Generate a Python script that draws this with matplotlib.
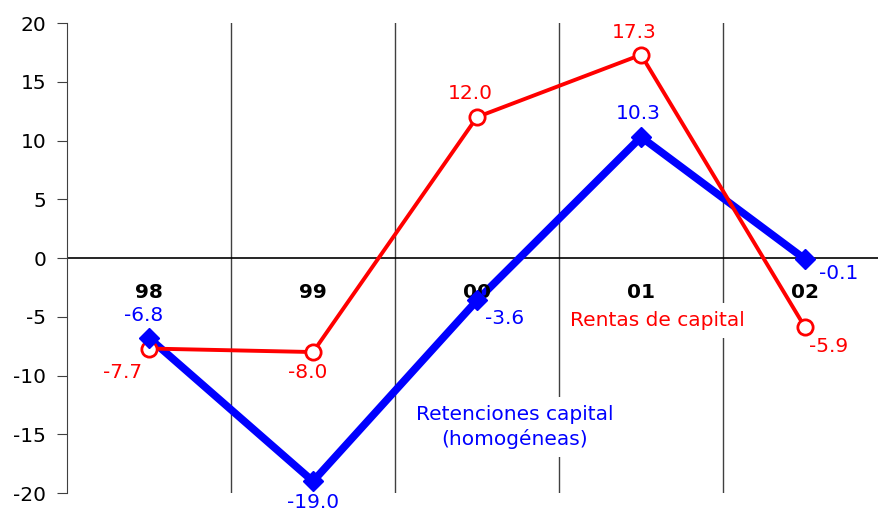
import matplotlib.pyplot as plt

# Data
years = ["98", "99", "00", "01", "02"]
rentas = [-7.7, -8.0, 12.0, 17.3, -5.9]
retenciones = [-6.8, -19.0, -3.6, 10.3, -0.1]

# label offsets in points (dx, dy)
rentas_off = [(-19, -17), (-4, -15), (-5, 17), (-5, 16), (17, -14)]
reten_off = [(-4, 16), (0, -15), (20, -13), (-2, 17), (24, -10)]

plt.rcParams['font.family'] = 'DejaVu Sans'
plt.rcParams['axes.unicode_minus'] = False
FS = 14.5

fig = plt.figure(figsize=(8.79, 5.12), dpi=100)
ax = fig.add_axes([0.0762, 0.037, 0.933, 0.918])

x = list(range(len(years)))

# grid / axes lines
for xv in [0.5, 1.5, 2.5, 3.5]:
    ax.axvline(xv, color='#404040', linewidth=1, zorder=1)
ax.axhline(0, color='black', linewidth=1.2, zorder=1)

# series
ax.plot(x, retenciones, color='#0000ff', linewidth=5.5, zorder=2)
ax.plot(x, rentas, color='#ff0000', linewidth=2.8, marker='o', markersize=11,
        markerfacecolor='white', markeredgecolor='#ff0000', markeredgewidth=2, zorder=3)
ax.plot(x, retenciones, linestyle='none', marker='D', markersize=10.5,
        color='#0000ff', zorder=4)

# data labels
for i, v in enumerate(rentas):
    ax.annotate(f"{v:.1f}", (i, v), xytext=rentas_off[i], textcoords='offset points',
                ha='center', va='center', color='#ff0000', fontsize=FS, zorder=5)
for i, v in enumerate(retenciones):
    ax.annotate(f"{v:.1f}", (i, v), xytext=reten_off[i], textcoords='offset points',
                ha='center', va='center', color='#0000ff', fontsize=FS, zorder=5)

# category labels under the zero line
for i, yr in enumerate(years):
    ax.text(i, -2.9, yr, ha='center', va='center', fontsize=FS,
            fontweight='bold', color='black', zorder=3)

# series names
ax.text(3.1, -5.3, "Rentas de capital", ha='center', va='center', color='#ff0000',
        fontsize=FS, zorder=4,
        bbox=dict(facecolor='white', edgecolor='none', pad=6))
ax.text(2.23, -14.4, "Retenciones capital\n(homogéneas)", ha='center', va='center',
        color='#0000ff', fontsize=FS, zorder=4, linespacing=1.3,
        bbox=dict(facecolor='white', edgecolor='none', pad=6))

ax.set_xlim(-0.5, 4.5)
ax.set_ylim(-20, 20)
ax.set_yticks(range(-20, 21, 5))
ax.set_xticks([])
ax.tick_params(axis='y', labelsize=FS, length=7, pad=8, color='#404040', direction='out')
for s in ['top', 'right', 'bottom']:
    ax.spines[s].set_visible(False)
ax.spines['left'].set_color('#404040')

fig.savefig('out.png', dpi=100)
